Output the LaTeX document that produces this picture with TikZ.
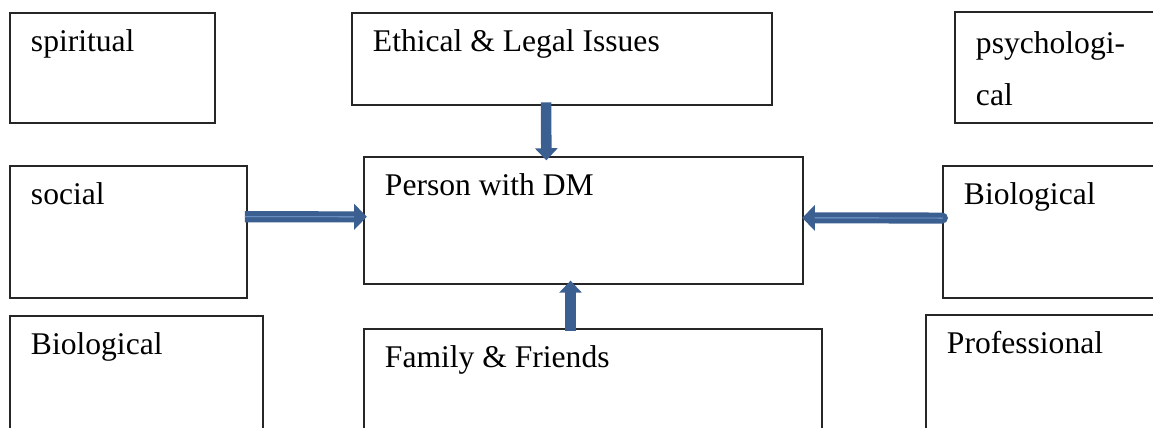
\documentclass[tikz,border=0pt]{standalone}
\usepackage{fontspec}
\setmainfont{Liberation Serif}
\usetikzlibrary{arrows.meta,fit}

\definecolor{flowblue}{RGB}{60,95,145}
\definecolor{flowlight}{RGB}{125,165,215}

\tikzset{
    box/.style={draw=black!85, line width=0.45pt, inner sep=0pt},
    boxtext/.style={anchor=base west, inner sep=0pt,
        font=\fontsize{12}{19.8}\selectfont},
    flow/.style={draw=flowblue, line width=4pt,
        -{Triangle[width=8.4pt,length=4.6pt]}},
    flowside/.style={draw=flowblue, line width=4.2pt,
        -{Triangle[width=9.6pt,length=4.8pt]},
        postaction={draw=flowlight, line width=0.35pt, -, shorten >=4.8pt}}
}

\begin{document}
\begin{tikzpicture}[x=0.38pt, y=-0.38pt]

    \useasboundingbox (0,0) rectangle (1153,428);
    \clip (0,0) rectangle (1153,428);

    %% Top row
    % spiritual
    \node[box, fit={(10,13) (215,123)}] (spir) {};
    \node[boxtext] (spirtxt) at ([xshift=8pt,yshift=-14.8pt]spir.north west) {spiritual};

    % Ethical and legal issues
    \node[box, fit={(352,13) (772,105)}] (ethic) {};
    \node[boxtext] (ethictxt) at ([xshift=8pt,yshift=-14.8pt]ethic.north west) {Ethical \& Legal Issues};

    % psychological, split over two lines
    \node[box, fit={(955,12) (1180,123)}] (psych) {};
    \node[boxtext] (psychtxt) at ([xshift=8pt,yshift=-16pt]psych.north west) {psychologi-};
    \node[boxtext] (psychtxtb) at ([yshift=-19.8pt]psychtxt.base west) {cal};

    %% Middle row
    % social
    \node[box, fit={(10,166) (247,298)}] (soc) {};
    \node[boxtext] (soctxt) at ([xshift=8pt,yshift=-14.8pt]soc.north west) {social};

    % Person with DM
    \node[box, fit={(364,157) (803,284)}] (pdm) {};
    \node[boxtext] (pdmtxt) at ([xshift=8pt,yshift=-14.8pt]pdm.north west) {Person with DM};

    % Biological (right)
    \node[box, fit={(943,166) (1180,298)}] (bior) {};
    \node[boxtext] (biortxt) at ([xshift=8pt,yshift=-14.8pt]bior.north west) {Biological};

    %% Bottom row
    % Biological (left)
    \node[box, fit={(10,316) (263,450)}] (biol) {};
    \node[boxtext] (bioltxt) at ([xshift=8pt,yshift=-14.8pt]biol.north west) {Biological};

    % Family and friends
    \node[box, fit={(364,329) (822,450)}] (fam) {};
    \node[boxtext] (famtxt) at ([xshift=8pt,yshift=-14.8pt]fam.north west) {Family \& Friends};

    % Professional
    \node[box, fit={(926,315) (1180,450)}] (prof) {};
    \node[boxtext] (proftxt) at ([xshift=8pt,yshift=-14.8pt]prof.north west) {Professional};

    %% Arrows into the person
    \draw[flow] ([xshift=74pt,yshift=1.2pt]ethic.south west) -- ([xshift=69.5pt,yshift=-1.5pt]pdm.north west);
    \draw[flow] ([xshift=78.7pt,yshift=-0.8pt]fam.north west) -- ([xshift=78.7pt,yshift=1.5pt]pdm.south west);
    \draw[flowside] ([xshift=-1pt,yshift=5.8pt]soc.east) -- ([xshift=1.3pt,yshift=1.4pt]pdm.west);
    \draw[flowside, line cap=round] ([yshift=5.3pt]bior.west) -- ([xshift=-0.5pt,yshift=1pt]pdm.east);

\end{tikzpicture}
\end{document}
